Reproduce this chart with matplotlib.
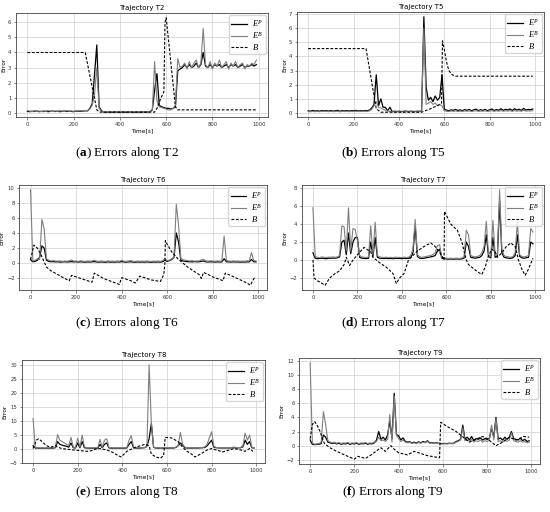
import matplotlib.pyplot as plt
import numpy as np
from matplotlib.ticker import MultipleLocator

plt.rcParams.update({
    'mathtext.fontset': 'custom',
    'mathtext.rm': 'Liberation Serif',
    'mathtext.it': 'Liberation Serif:italic',
    'mathtext.bf': 'Liberation Serif:bold',
})

# time grid of the error series (10 s sampling)
time_s = list(range(0, 1000, 10))

# ---- T2 ----
t2_ep = [0.10, 0.08, 0.11, 0.09, 0.12, 0.08, 0.10, 0.09, 0.11, 0.08,
         0.10, 0.12, 0.09, 0.11, 0.08, 0.10, 0.12, 0.09, 0.11, 0.10,
         0.08, 0.12, 0.10, 0.11, 0.12, 0.14, 0.13, 0.30, 0.60, 2.50,
         4.50, 0.40, 0.15, 0.05, 0.04, 0.06, 0.05, 0.04, 0.06, 0.05,
         0.04, 0.06, 0.05, 0.04, 0.06, 0.05, 0.04, 0.06, 0.05, 0.04,
         0.06, 0.05, 0.06, 0.08, 0.20, 1.50, 2.60, 0.50, 0.40, 0.35,
         0.30, 0.30, 0.25, 0.30, 0.40, 2.80, 2.90, 3.00, 3.20, 3.00,
         3.20, 3.00, 3.10, 3.30, 3.00, 3.20, 4.00, 3.10, 3.00, 3.20,
         3.00, 3.20, 3.10, 3.20, 3.00, 3.10, 3.20, 3.00, 3.20, 3.10,
         3.20, 3.00, 3.10, 3.20, 3.00, 3.10, 3.10, 3.20, 3.10, 3.20]
t2_eb = [0.15, 0.12, 0.08, 0.14, 0.10, 0.12, 0.09, 0.13, 0.10, 0.15,
         0.11, 0.09, 0.13, 0.10, 0.14, 0.12, 0.10, 0.15, 0.11, 0.13,
         0.10, 0.14, 0.12, 0.15, 0.13, 0.16, 0.15, 0.25, 0.50, 1.20,
         3.00, 0.30, 0.10, 0.08, 0.05, 0.10, 0.07, 0.09, 0.05, 0.08,
         0.10, 0.06, 0.09, 0.07, 0.10, 0.05, 0.08, 0.09, 0.06, 0.10,
         0.07, 0.08, 0.10, 0.07, 0.15, 3.40, 0.80, 0.40, 0.35, 0.30,
         0.25, 0.20, 0.20, 0.30, 0.50, 3.60, 3.00, 3.10, 3.30, 2.90,
         3.40, 3.00, 3.30, 3.50, 3.00, 3.30, 5.60, 3.20, 3.00, 3.40,
         2.90, 3.30, 3.10, 3.50, 3.00, 3.20, 3.40, 2.90, 3.30, 3.10,
         3.40, 3.00, 3.20, 3.30, 2.90, 3.20, 3.10, 3.30, 3.20, 3.50]
t2_b_t = [0, 250, 300, 312, 550, 560, 575, 590, 595, 600, 640, 650, 990]
t2_b = [4.0, 4.0, 0.2, 0.05, 0.05, 0.3, 0.9, 1.4, 6.0, 6.3, 0.4, 0.2, 0.2]

# ---- T5 ----
t5_ep = [0.15, 0.12, 0.18, 0.13, 0.16, 0.12, 0.17, 0.14, 0.16, 0.13,
         0.17, 0.13, 0.15, 0.18, 0.12, 0.16, 0.14, 0.17, 0.13, 0.16,
         0.15, 0.18, 0.13, 0.16, 0.14, 0.17, 0.15, 0.20, 0.35, 0.60,
         2.70, 0.50, 1.00, 0.40, 0.40, 0.15, 0.40, 0.10, 0.12, 0.10,
         0.12, 0.10, 0.11, 0.13, 0.10, 0.12, 0.11, 0.10, 0.12, 0.11,
         0.15, 6.80, 1.80, 0.90, 1.10, 0.80, 1.20, 0.90, 1.10, 2.70,
         0.25, 0.20, 0.15, 0.22, 0.18, 0.25, 0.17, 0.22, 0.15, 0.24,
         0.18, 0.25, 0.15, 0.22, 0.27, 0.16, 0.23, 0.18, 0.25, 0.16,
         0.22, 0.28, 0.17, 0.24, 0.19, 0.30, 0.18, 0.25, 0.21, 0.28,
         0.17, 0.30, 0.20, 0.26, 0.18, 0.32, 0.20, 0.25, 0.22, 0.28]
t5_eb = [0.10, 0.08, 0.12, 0.09, 0.11, 0.08, 0.12, 0.10, 0.11, 0.09,
         0.12, 0.09, 0.10, 0.12, 0.08, 0.11, 0.10, 0.12, 0.09, 0.11,
         0.10, 0.12, 0.09, 0.11, 0.10, 0.12, 0.10, 0.15, 0.25, 0.50,
         0.80, 0.40, 0.35, 0.25, 0.20, 0.15, 0.10, 0.08, 0.09, 0.08,
         0.09, 0.08, 0.08, 0.09, 0.08, 0.09, 0.08, 0.08, 0.09, 0.08,
         0.20, 6.00, 0.60, 0.70, 0.80, 0.60, 0.70, 0.50, 0.60, 0.50,
         0.15, 0.12, 0.10, 0.14, 0.11, 0.15, 0.10, 0.13, 0.11, 0.14,
         0.12, 0.15, 0.10, 0.13, 0.16, 0.11, 0.14, 0.12, 0.15, 0.11,
         0.13, 0.16, 0.11, 0.15, 0.12, 0.17, 0.12, 0.15, 0.13, 0.16,
         0.11, 0.17, 0.12, 0.15, 0.12, 0.18, 0.13, 0.15, 0.14, 0.16]
t5_b_t = [0, 255, 300, 320, 500, 540, 580, 588, 592, 600, 610, 620, 635, 650, 990]
t5_b = [4.55, 4.55, 0.3, 0.05, 0.05, 0.3, 0.6, 0.7, 5.1, 4.5, 3.6, 3.0, 2.7, 2.6, 2.6]

# ---- T6 ----
t6_ep = [0.50, 0.20, 0.25, 0.40, 0.80, 2.30, 2.00, 0.40, 0.25, 0.20,
         0.22, 0.18, 0.20, 0.15, 0.18, 0.20, 0.17, 0.19, 0.22, 0.18,
         0.20, 0.16, 0.19, 0.17, 0.15, 0.18, 0.16, 0.19, 0.22, 0.17,
         0.15, 0.18, 0.16, 0.14, 0.19, 0.15, 0.17, 0.15, 0.18, 0.16,
         0.22, 0.17, 0.15, 0.18, 0.20, 0.16, 0.14, 0.18, 0.15, 0.17,
         0.15, 0.18, 0.16, 0.14, 0.17, 0.15, 0.18, 0.15, 0.20, 0.40,
         0.25, 0.35, 0.50, 0.80, 4.00, 2.80, 0.40, 0.30, 0.25, 0.22,
         0.20, 0.18, 0.22, 0.19, 0.20, 0.25, 0.30, 0.19, 0.17, 0.20,
         0.18, 0.16, 0.19, 0.17, 0.18, 0.60, 0.20, 0.18, 0.16, 0.19,
         0.17, 0.18, 0.15, 0.17, 0.16, 0.19, 0.18, 0.50, 0.20, 0.18]
t6_eb = [9.70, 0.30, 0.40, 0.60, 0.50, 5.80, 4.50, 0.60, 0.40, 0.30,
         0.35, 0.30, 0.28, 0.32, 0.25, 0.30, 0.27, 0.33, 0.45, 0.28,
         0.30, 0.26, 0.32, 0.28, 0.25, 0.30, 0.27, 0.31, 0.40, 0.28,
         0.25, 0.30, 0.27, 0.24, 0.31, 0.26, 0.29, 0.25, 0.30, 0.27,
         0.40, 0.28, 0.25, 0.30, 0.35, 0.27, 0.24, 0.30, 0.26, 0.29,
         0.25, 0.30, 0.27, 0.24, 0.29, 0.26, 0.30, 0.25, 0.35, 0.60,
         0.35, 0.40, 0.60, 0.80, 7.80, 5.00, 0.60, 0.45, 0.40, 0.35,
         0.30, 0.35, 0.28, 0.32, 0.30, 0.45, 0.50, 0.30, 0.28, 0.32,
         0.30, 0.27, 0.31, 0.28, 0.30, 3.60, 0.35, 0.30, 0.27, 0.31,
         0.28, 0.30, 0.26, 0.29, 0.27, 0.32, 0.30, 1.40, 0.35, 0.30]
t6_b_t = [0, 15, 30, 45, 55, 70, 90, 120, 150, 170, 180, 220, 270, 280, 320,
          390, 400, 440, 460, 480, 530, 570, 585, 590, 592, 600, 620, 650, 690,
          740, 750, 760, 800, 845, 855, 900, 950, 965, 985]
t6_b = [0.5, 2.4, 2.0, 1.2, 0.5, -0.5, -1.0, -1.5, -2.0, -2.3, -1.6, -2.0, -2.5, -1.3, -2.0,
        -2.8, -1.9, -2.3, -2.6, -1.7, -2.2, -2.4, -1.5, 0.0, 3.0, 2.5, 1.5, 0.5, -0.5,
        -1.5, -2.0, -1.2, -1.8, -2.3, -1.3, -1.9, -2.6, -2.9, -1.8]

# ---- T7 ----
t7_ep = [0.80, 0.20, 0.15, 0.18, 0.20, 0.17, 0.15, 0.19, 0.20, 0.22,
         0.20, 0.25, 0.35, 2.00, 2.20, 0.60, 3.00, 0.70, 2.00, 2.50,
         2.50, 0.30, 0.20, 0.18, 0.17, 0.20, 2.00, 0.40, 2.50, 0.30,
         0.20, 0.18, 0.17, 0.19, 0.16, 0.18, 0.15, 0.19, 0.17, 0.18,
         0.16, 0.19, 0.17, 0.18, 0.30, 0.80, 3.80, 0.40, 0.20, 0.18,
         0.20, 0.25, 0.30, 0.35, 0.40, 0.50, 1.00, 1.20, 0.20, 0.15,
         0.12, 0.10, 0.12, 0.10, 0.11, 0.12, 0.10, 0.13, 0.20, 2.00,
         1.50, 0.30, 0.25, 0.20, 0.25, 0.30, 0.50, 1.00, 2.80, 0.40,
         0.25, 2.50, 0.30, 0.40, 6.50, 0.80, 0.30, 0.25, 0.20, 0.18,
         0.25, 0.50, 2.80, 0.40, 0.25, 0.20, 0.25, 0.30, 2.00, 1.80]
t7_eb = [5.80, 0.40, 0.30, 0.25, 0.35, 0.30, 0.28, 0.32, 0.30, 0.35,
         0.30, 0.35, 0.50, 3.80, 3.70, 1.00, 5.80, 1.00, 3.50, 3.40,
         2.20, 0.50, 0.35, 0.30, 0.28, 0.35, 3.80, 0.60, 4.20, 0.50,
         0.35, 0.30, 0.28, 0.32, 0.27, 0.30, 0.25, 0.33, 0.28, 0.30,
         0.27, 0.32, 0.28, 0.30, 0.50, 1.20, 4.50, 0.60, 0.35, 0.30,
         0.35, 0.40, 0.45, 0.50, 0.60, 0.80, 1.60, 1.70, 0.30, 0.25,
         0.20, 0.18, 0.20, 0.17, 0.19, 0.20, 0.18, 0.22, 0.30, 3.30,
         2.80, 0.50, 0.40, 0.35, 0.40, 0.50, 0.80, 1.50, 4.30, 0.60,
         0.40, 4.40, 0.50, 0.60, 7.80, 1.20, 0.50, 0.40, 0.35, 0.30,
         0.40, 0.80, 4.20, 0.60, 0.40, 0.35, 0.40, 0.50, 3.50, 3.10]
t7_b_t = [0, 5, 20, 55, 75, 100, 120, 140, 150, 165, 180, 215, 230, 260, 270,
          300, 330, 360, 375, 390, 410, 430, 470, 500, 530, 550, 580, 590, 592, 620,
          650, 670, 690, 700, 740, 760, 775, 790, 805, 820, 830, 850, 870, 890, 910,
          925, 940, 955, 970, 990]
t7_b = [0.0, -2.0, -2.3, -2.8, -2.0, -1.5, -1.2, -0.5, 0.3, -0.6, 0.0, 1.0, 1.4, 0.9, 0.3,
        -0.3, -0.8, -1.5, -2.6, -2.0, -1.5, 0.0, 1.0, 1.5, 1.9, 1.5, 0.5, 0.0, 5.4, 4.0,
        3.3, 2.0, 0.0, -0.5, -1.3, -1.6, -0.8, 0.5, 1.2, 0.9, 0.3, 0.8, 1.5, 1.9, 1.5,
        0.0, -1.0, -1.7, -1.0, 0.2]

# ---- T8 ----
t8_ep = [1.00, 0.20, 0.15, 0.12, 0.15, 0.12, 0.14, 0.12, 0.15, 0.18,
         0.30, 2.50, 1.50, 1.20, 1.00, 0.80, 0.50, 2.00, 0.30, 0.20,
         2.00, 0.30, 2.50, 0.30, 0.20, 0.15, 0.12, 0.15, 0.12, 0.18,
         1.50, 0.30, 1.50, 2.00, 0.25, 0.15, 0.12, 0.14, 0.15, 0.12,
         0.14, 0.15, 0.20, 1.50, 2.50, 0.30, 0.20, 0.15, 0.20, 0.25,
         0.30, 0.80, 3.50, 9.00, 0.40, 0.20, 0.15, 0.20, 0.18, 0.15,
         0.15, 0.20, 0.18, 0.20, 0.40, 1.00, 2.00, 1.20, 0.30, 0.20,
         0.20, 0.18, 0.20, 0.22, 0.20, 0.25, 0.30, 0.40, 1.00, 2.00,
         3.00, 0.50, 0.30, 0.25, 0.20, 0.22, 0.20, 0.25, 0.20, 0.30,
         0.30, 0.25, 0.25, 0.30, 0.60, 3.00, 1.50, 2.50, 0.30, 0.20]
t8_eb = [10.8, 0.30, 0.20, 0.25, 0.20, 0.18, 0.22, 0.20, 0.25, 0.30,
         0.50, 5.00, 3.00, 2.50, 2.00, 1.50, 1.00, 4.00, 0.50, 0.40,
         3.70, 0.50, 4.80, 0.60, 0.30, 0.25, 0.20, 0.25, 0.22, 0.30,
         3.30, 0.50, 3.00, 3.50, 0.40, 0.25, 0.20, 0.22, 0.25, 0.20,
         0.22, 0.25, 0.30, 3.00, 4.60, 0.50, 0.30, 0.25, 0.30, 0.35,
         0.40, 0.60, 30.0, 9.00, 0.50, 0.30, 0.25, 0.30, 0.28, 0.25,
         0.25, 0.30, 0.28, 0.30, 0.50, 1.00, 5.80, 1.50, 0.50, 0.35,
         0.30, 0.28, 0.30, 0.32, 0.30, 0.35, 0.40, 0.60, 1.50, 3.90,
         6.00, 0.80, 0.40, 0.35, 0.30, 0.32, 0.30, 0.35, 0.30, 0.40,
         0.50, 0.40, 0.35, 0.40, 1.00, 5.50, 3.00, 4.80, 0.50, 0.30]
t8_b_t = [0, 15, 25, 40, 60, 80, 100, 110, 130, 180, 240, 260, 280, 300, 330,
          360, 380, 395, 420, 450, 480, 500, 520, 530, 550, 570, 585, 592, 620, 650,
          670, 690, 710, 725, 750, 780, 800, 820, 850, 880, 900, 930, 950, 970, 985]
t8_b = [0.0, 3.0, 3.5, 2.5, 1.0, 0.5, 1.0, 0.5, 0.0, -0.5, -1.0, -0.8, -0.2, 0.0, -0.5,
        -1.5, -2.5, -3.0, -1.0, 0.2, 1.0, 1.5, 1.0, -2.0, -3.0, -3.5, -2.5, 4.0, 3.8, 2.5,
        0.5, -1.0, -2.0, -3.0, -2.0, -0.5, 0.0, -0.5, -1.2, -0.5, 0.0, -0.5, -1.0, 0.0, -1.0]

# ---- T9 ----
t9_ep = [0.80, 0.20, 0.15, 0.18, 0.20, 0.30, 1.50, 1.20, 0.50, 0.40,
         0.30, 0.40, 0.25, 0.35, 0.20, 0.30, 0.25, 0.35, 0.20, 0.30,
         0.25, 0.35, 0.20, 0.30, 0.25, 0.35, 0.20, 0.30, 0.25, 0.40,
         0.80, 2.00, 0.90, 1.20, 0.80, 1.50, 3.50, 1.00, 7.40, 1.60,
         1.40, 0.80, 1.10, 0.60, 0.50, 0.55, 0.40, 0.50, 0.35, 0.55,
         0.40, 0.60, 0.45, 0.70, 0.40, 0.45, 0.35, 0.40, 0.35, 0.30,
         0.30, 0.32, 0.30, 0.35, 0.32, 0.35, 0.60, 0.70, 0.90, 2.90,
         0.90, 1.20, 0.80, 1.30, 0.70, 1.00, 0.90, 1.10, 0.80, 1.00,
         0.90, 1.00, 2.50, 1.20, 4.00, 0.90, 1.10, 0.80, 1.20, 0.90,
         1.20, 2.00, 1.00, 0.90, 0.80, 1.10, 0.70, 0.90, 0.60, 0.70]
t9_eb = [11.7, 0.40, 0.20, 0.25, 0.30, 0.50, 4.80, 3.00, 0.70, 0.50,
         0.40, 0.50, 0.35, 0.45, 0.30, 0.40, 0.35, 0.45, 0.30, 0.40,
         0.35, 0.45, 0.30, 0.40, 0.35, 0.45, 0.30, 0.40, 0.35, 0.50,
         0.60, 1.20, 0.70, 0.80, 0.60, 0.90, 4.40, 0.50, 7.00, 1.50,
         1.00, 0.60, 0.80, 0.50, 0.40, 0.45, 0.35, 0.40, 0.30, 0.45,
         0.35, 0.50, 0.40, 0.60, 0.35, 0.40, 0.30, 0.35, 0.30, 0.25,
         0.25, 0.28, 0.25, 0.30, 0.27, 0.30, 0.50, 0.60, 0.80, 2.50,
         0.70, 0.80, 0.60, 0.90, 0.50, 0.70, 0.60, 0.80, 0.50, 0.70,
         0.60, 0.80, 2.90, 0.80, 3.80, 0.60, 0.70, 0.50, 0.80, 0.60,
         0.80, 1.80, 0.70, 0.60, 0.50, 0.70, 0.50, 0.60, 0.40, 0.50]
t9_b_t = [0, 10, 20, 30, 45, 55, 65, 90, 120, 170, 200, 215, 250, 280, 310,
          320, 340, 355, 365, 380, 400, 440, 470, 490, 530, 585, 590, 620, 660, 700,
          720, 740, 780, 800, 820, 840, 870, 900, 930, 950, 965, 990]
t9_b = [1.0, 3.0, 3.4, 3.0, 2.0, 1.0, 0.3, -0.3, -0.8, -1.5, -1.9, -1.5, -1.8, -1.2, -0.5,
        -0.3, -0.8, -0.3, 0.0, -0.5, -1.0, -1.3, -0.8, -1.0, -1.4, -1.7, 3.3, 2.7, 2.0, 1.0,
        0.5, 0.8, 1.3, 1.0, 0.5, 0.0, 0.5, 1.2, 0.8, 1.0, 1.3, 1.2]

panels = [
    ("T2", "a", t2_ep, t2_eb, t2_b_t, t2_b, 1),
    ("T5", "b", t5_ep, t5_eb, t5_b_t, t5_b, 1),
    ("T6", "c", t6_ep, t6_eb, t6_b_t, t6_b, 2),
    ("T7", "d", t7_ep, t7_eb, t7_b_t, t7_b, 2),
    ("T8", "e", t8_ep, t8_eb, t8_b_t, t8_b, 5),
    ("T9", "f", t9_ep, t9_eb, t9_b_t, t9_b, 2),
]

# axes boxes in figure fraction (left, bottom, width, height)
boxes = [
    [0.029, 0.7715, 0.458, 0.203],
    [0.540, 0.7715, 0.449, 0.205],
    [0.035, 0.4336, 0.451, 0.205],
    [0.549, 0.4336, 0.440, 0.205],
    [0.040, 0.0957, 0.442, 0.201],
    [0.544, 0.0938, 0.438, 0.207],
]
cap_x = [0.231, 0.715]
cap_y = [0.701, 0.369, 0.040]

fig = plt.figure(figsize=(5.5, 5.12), dpi=100)

for i, (name, letter, ep, eb, bt, bv, step) in enumerate(panels):
    ax = fig.add_axes(boxes[i])
    ax.plot(time_s, ep, color='black', lw=0.9, label='$E^P$')
    ax.plot(time_s, eb, color='#7f7f7f', lw=0.8, label='$E^B$')
    ax.plot(bt, bv, color='black', lw=0.8, ls='--', dashes=(2.5, 1.5), label='$B$')
    ax.xaxis.set_major_locator(MultipleLocator(200))
    ax.yaxis.set_major_locator(MultipleLocator(step))
    ax.grid(True, color='#d0d0d0', lw=0.5)
    ax.set_axisbelow(True)
    ax.tick_params(labelsize=3.8, length=1.8, width=0.4, pad=1.5, colors='#333333')
    for s in ax.spines.values():
        s.set_linewidth(0.6)
        s.set_color('#444444')
    ax.set_title(f"Trajectory {name}", fontsize=5, pad=2.5)
    ax.set_xlabel("Time[s]", fontsize=4.2, labelpad=1.5)
    ax.set_ylabel("Error", fontsize=4.2, labelpad=1.5)
    ax.legend(loc='upper right', fontsize=6, handlelength=1.9, borderpad=0.3,
              labelspacing=0.12, handletextpad=0.6, borderaxespad=0.25,
              framealpha=0.8, edgecolor='#cccccc')
    fig.text(cap_x[i % 2], cap_y[i // 2], rf"$(\mathbf{{{letter}}})$ Errors along {name}",
             ha='center', va='center', fontsize=9.5, family='Liberation Serif')

fig.savefig('out.png', dpi=100)
